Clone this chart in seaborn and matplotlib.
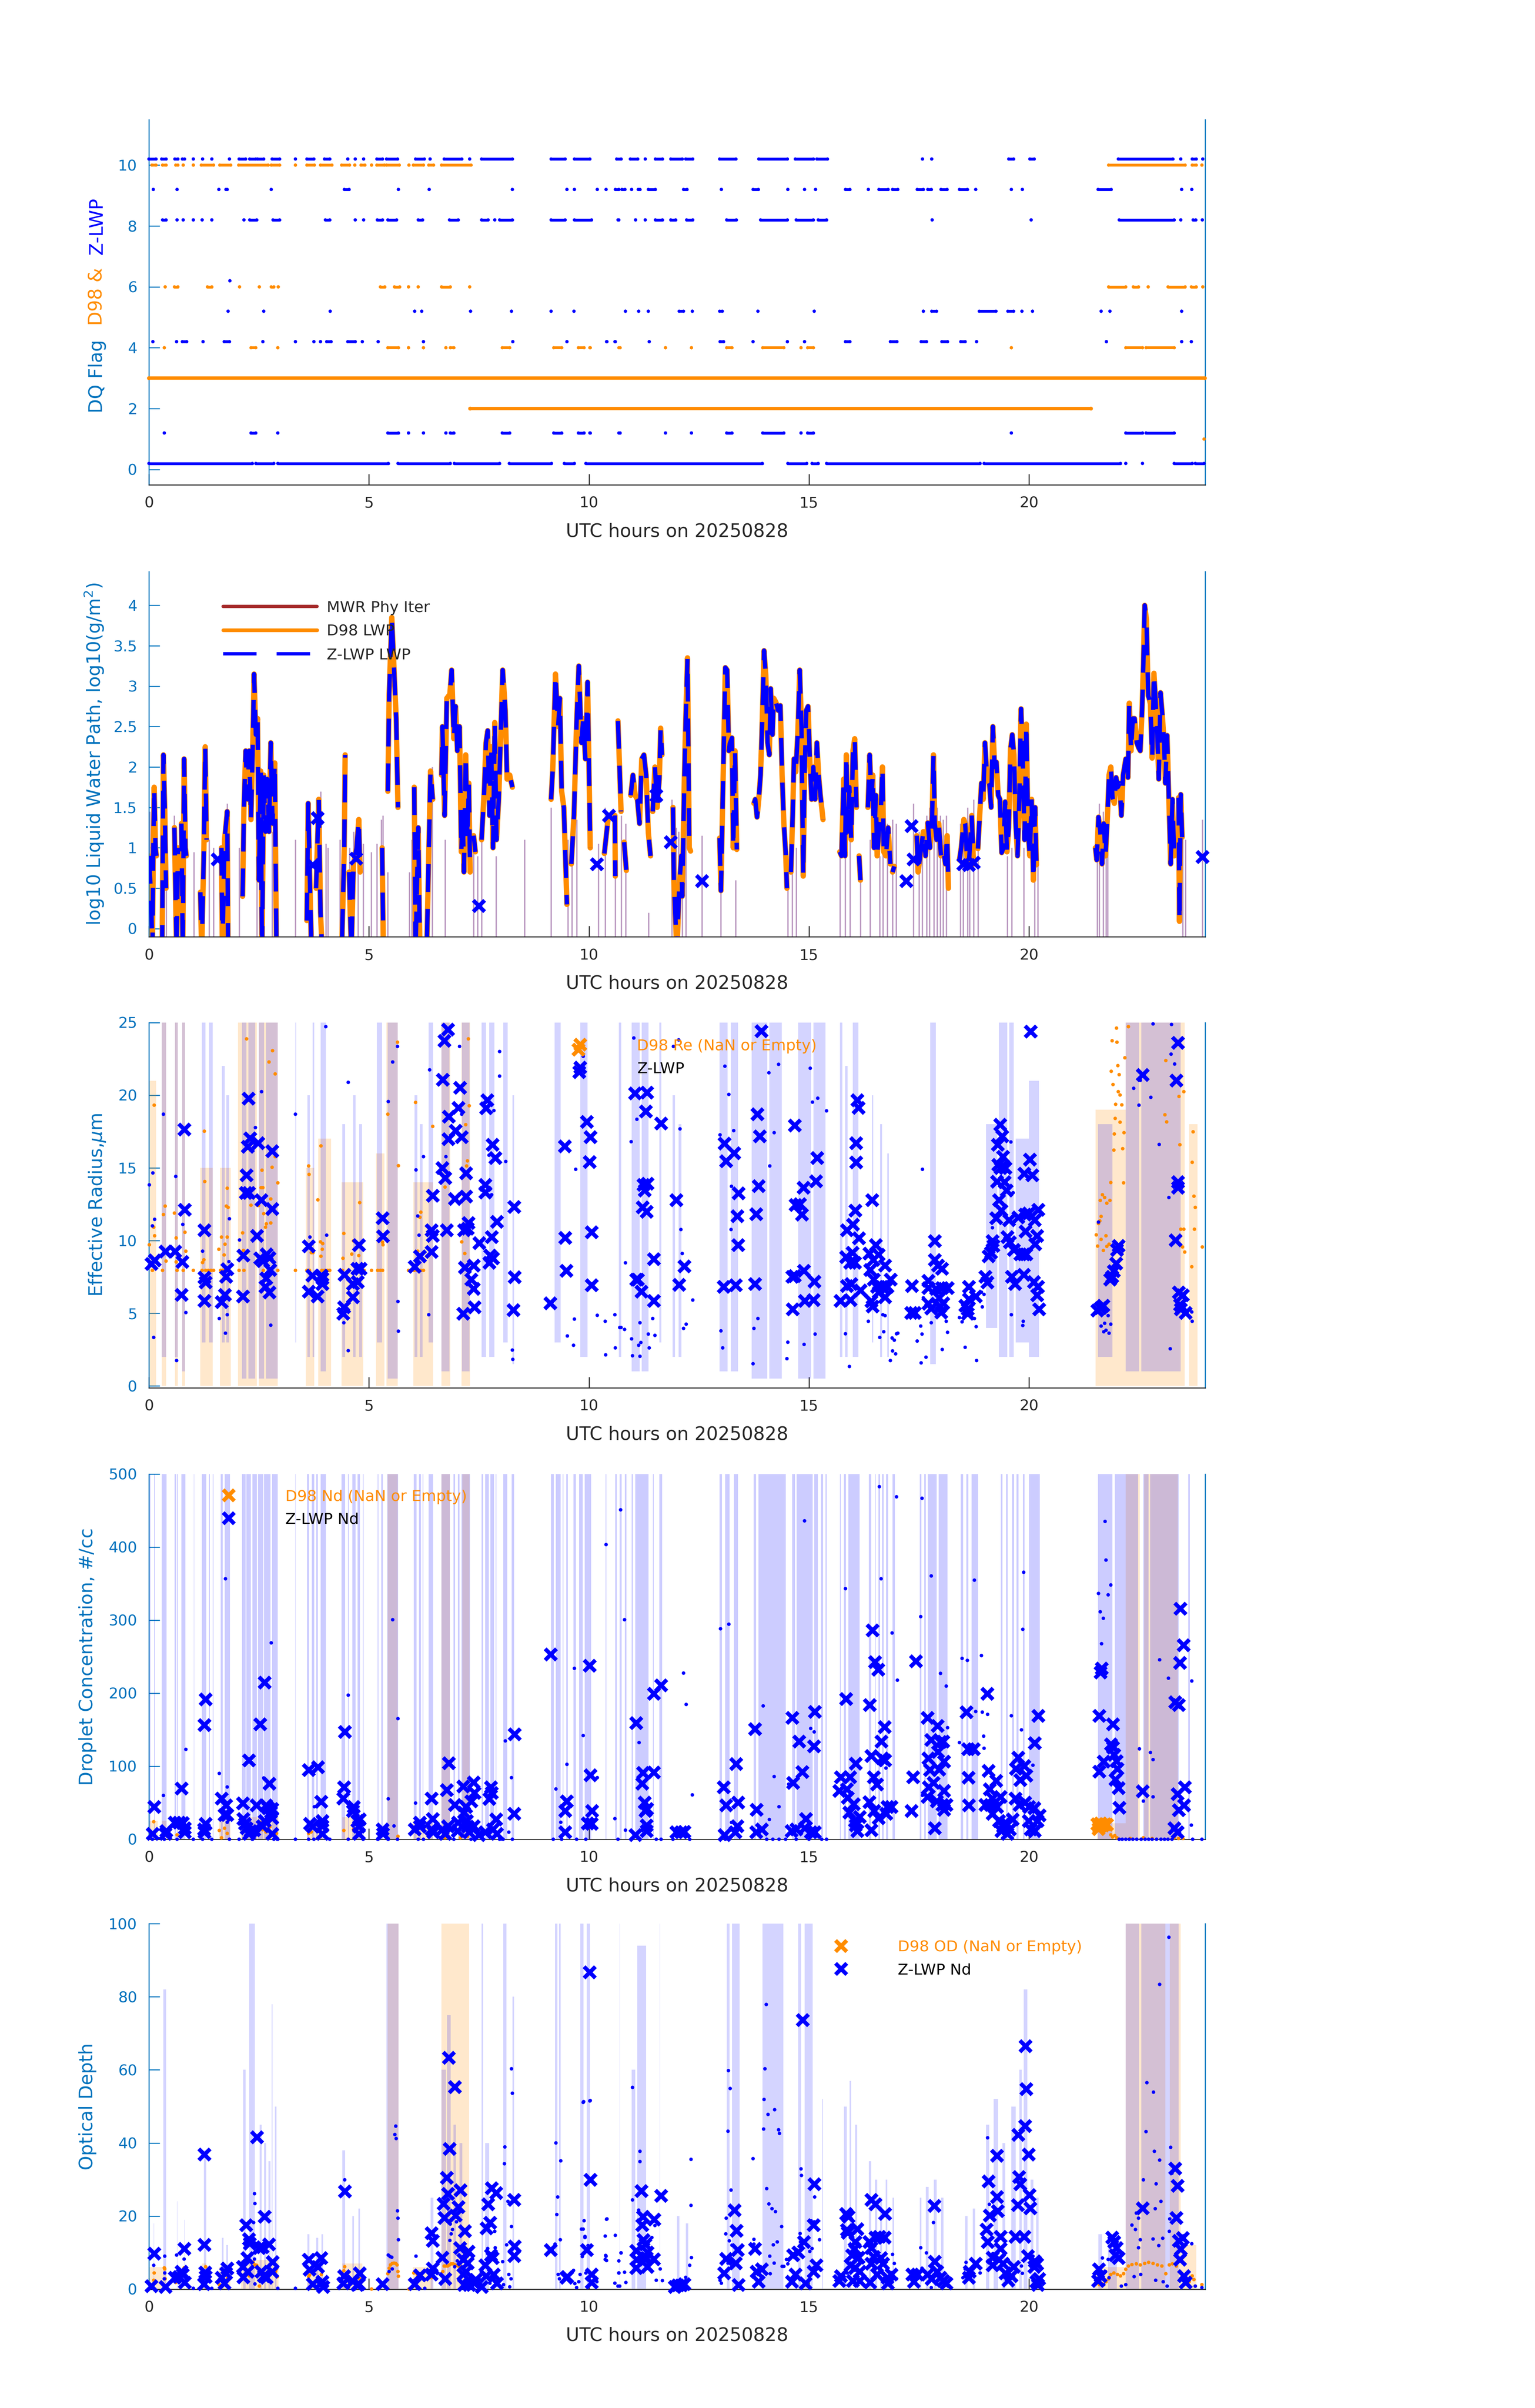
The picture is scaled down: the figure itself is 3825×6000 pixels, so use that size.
import matplotlib
matplotlib.use("Agg")
import matplotlib.pyplot as plt
from matplotlib.lines import Line2D
from matplotlib.ticker import FormatStrFormatter
import numpy as np
import pandas as pd
import seaborn as sns

sns.set_style("white")
plt.rcParams["font.family"] = ["DejaVu Sans"]
plt.rcParams["mathtext.fontset"] = "dejavusans"

AX_BLUE = "#0072BD"
ORANGE = "#FF8C00"
BLUE = "#0000FF"
DARK = "#262626"
MAUVE = "#BA98C0"
BROWN = "#A52A2A"

# ---------------- panel 1: DQ flags, runs of (start hour, end hour) ----------------
zlwp_q10 = [(0.0, 0.16), (0.29, 0.39), (0.59, 0.66), (0.76, 0.81), (1.01, 1.01), (1.22, 1.22), (1.43, 1.43),
            (1.83, 1.83), (2.05, 2.2), (2.29, 2.43), (2.47, 2.61), (2.8, 2.97), (3.33, 3.33), (3.59, 3.75),
            (3.99, 4.11), (4.52, 4.52), (4.69, 4.69), (4.88, 4.88), (5.18, 5.31), (5.4, 5.65), (6.06, 6.26),
            (6.39, 6.39), (6.71, 7.11), (7.29, 7.29), (7.56, 8.26), (9.14, 9.46), (9.67, 10.02), (10.63, 10.73),
            (10.94, 11.11), (11.28, 11.28), (11.51, 11.67), (11.86, 12.12), (12.2, 12.36), (12.97, 13.34),
            (13.86, 14.51), (14.69, 15.1), (15.18, 15.42), (17.58, 17.58), (17.79, 17.79), (19.54, 19.65),
            (20.02, 20.12), (22.03, 23.27), (23.45, 23.45), (23.71, 23.8), (23.95, 23.95)]
d98_q10 = [(0.07, 0.16), (0.31, 0.39), (0.61, 0.66), (0.78, 0.78), (1.01, 1.01), (1.19, 1.47), (1.61, 1.86),
           (2.04, 2.71), (2.78, 2.97), (3.33, 3.33), (3.59, 3.76), (3.9, 4.16), (4.38, 4.56), (4.68, 4.68),
           (4.82, 4.91), (5.06, 5.06), (5.18, 5.35), (5.4, 5.69), (5.91, 5.91), (6.01, 6.24), (6.36, 6.47),
           (6.65, 7.32), (21.81, 23.55), (23.71, 23.8), (23.93, 23.93)]
zlwp_q9 = [(0.1, 0.1), (0.64, 0.64), (1.59, 1.59), (1.75, 1.78), (2.78, 2.78), (4.44, 4.55), (5.67, 5.67),
           (6.37, 6.37), (8.26, 8.26), (9.5, 9.5), (9.67, 9.67), (10.19, 10.19), (10.39, 10.39), (10.6, 10.68),
           (10.75, 10.82), (10.97, 10.97), (11.12, 11.16), (11.35, 11.51), (12.15, 12.23), (13.01, 13.01),
           (13.73, 13.85), (14.52, 14.52), (14.9, 14.9), (15.15, 15.15), (15.83, 15.93), (16.35, 16.35),
           (16.59, 16.8), (16.9, 17.02), (17.46, 17.6), (17.7, 17.78), (18.0, 18.14), (18.42, 18.6),
           (18.79, 18.79), (19.6, 19.6), (19.85, 19.85), (21.57, 21.87), (23.47, 23.47), (23.7, 23.7)]
zlwp_q8 = [(0.31, 0.39), (0.64, 0.64), (0.78, 0.78), (1.01, 1.01), (1.21, 1.21), (1.43, 1.43), (2.16, 2.16),
           (2.29, 2.45), (2.82, 2.97), (4.01, 4.11), (4.69, 4.69), (4.88, 4.88), (5.19, 5.31), (5.43, 5.63),
           (6.12, 6.22), (6.83, 7.03), (7.56, 7.71), (7.86, 7.86), (7.97, 8.26), (9.14, 9.46), (9.67, 10.06),
           (10.66, 10.68), (11.06, 11.06), (11.28, 11.28), (11.51, 11.67), (11.86, 11.97), (12.22, 12.36),
           (13.13, 13.35), (13.9, 14.51), (14.71, 15.1), (15.21, 15.4), (17.8, 17.8), (20.05, 20.05),
           (22.05, 23.3), (23.45, 23.45), (23.73, 23.79), (23.94, 23.94)]
zlwp_q6 = [(1.84, 1.84)]
d98_q6 = [(0.37, 0.37), (0.58, 0.66), (1.33, 1.43), (2.06, 2.06), (2.51, 2.51), (2.78, 2.84), (2.94, 2.94),
          (5.26, 5.36), (5.58, 5.7), (5.9, 5.9), (6.12, 6.12), (6.65, 6.85), (7.29, 7.29), (21.81, 22.2),
          (22.37, 22.49), (22.71, 22.71), (23.16, 23.55), (23.69, 23.8), (23.95, 23.95)]
zlwp_q5 = [(1.8, 1.8), (2.61, 2.61), (4.12, 4.12), (6.04, 6.04), (6.2, 6.2), (7.31, 7.31), (8.24, 8.24),
           (9.14, 9.14), (9.66, 9.66), (10.83, 10.83), (11.13, 11.13), (11.35, 11.35), (12.05, 12.15),
           (12.35, 12.35), (12.97, 13.03), (13.84, 13.84), (15.12, 15.12), (17.6, 17.6), (17.79, 17.9),
           (18.87, 19.25), (19.52, 19.65), (19.84, 19.84), (20.08, 20.08), (21.64, 21.64), (21.84, 21.84),
           (23.47, 23.47)]
zlwp_q4 = [(0.09, 0.09), (0.63, 0.63), (0.76, 0.86), (1.23, 1.23), (1.71, 1.83), (2.59, 2.59), (3.33, 3.33),
           (3.75, 3.75), (3.9, 3.9), (4.04, 4.14), (4.52, 4.69), (4.85, 4.85), (5.21, 5.21), (6.24, 6.24),
           (8.27, 8.27), (9.5, 9.5), (10.4, 10.41), (10.59, 10.6), (11.37, 11.37), (12.98, 13.06), (13.73, 13.73),
           (14.51, 14.51), (14.9, 14.9), (15.83, 15.93), (16.85, 17.0), (17.55, 17.67), (18.02, 18.15),
           (18.45, 18.55), (18.81, 18.81), (21.76, 21.76), (23.47, 23.47), (23.69, 23.69)]
d98_q4 = [(0.35, 0.35), (2.32, 2.43), (2.93, 2.93), (5.43, 5.67), (5.9, 5.9), (6.24, 6.24), (6.75, 6.75),
          (6.85, 6.93), (8.03, 8.2), (9.2, 9.38), (9.76, 9.89), (10.02, 10.03), (10.68, 10.71), (11.74, 11.74),
          (12.33, 12.33), (13.13, 13.25), (13.95, 14.43), (14.82, 14.82), (14.97, 15.1), (19.6, 19.6),
          (22.2, 22.58), (22.66, 23.3)]
d98_q3 = [(0.0, 24.0)]
d98_q2 = [(7.3, 21.41)]
zlwp_q1 = [(0.35, 0.35), (2.32, 2.43), (2.93, 2.93), (5.43, 5.67), (5.9, 5.9), (6.24, 6.24), (6.75, 6.75),
           (6.85, 6.93), (8.03, 8.2), (9.2, 9.38), (9.76, 9.89), (10.02, 10.03), (10.68, 10.71), (11.74, 11.74),
           (12.33, 12.33), (13.13, 13.25), (13.95, 14.43), (14.82, 14.82), (14.97, 15.1), (19.6, 19.6),
           (22.2, 22.58), (22.66, 23.3)]
d98_q1 = [(23.98, 23.98)]
zlwp_q0 = [(0.0, 2.35), (2.43, 2.84), (2.93, 5.44), (5.66, 6.85), (6.94, 7.97), (8.19, 9.15), (9.44, 9.67),
           (9.93, 13.94), (14.52, 14.95), (15.07, 15.21), (15.4, 18.89), (18.98, 22.08), (22.2, 22.2),
           (22.58, 22.58), (23.3, 23.71), (23.78, 23.98)]

# ---------------- panel 2: log10 LWP (hour, value); None = gap ----------------
zlwp_lwp = [
    (0.00, 0.9), (0.05, 0.4), (0.08, -0.3), (0.10, 1.0), (0.12, 1.75), (0.15, 1.0), (0.17, 0.9), None,
    (0.30, -0.3), (0.33, 2.15), (0.36, 1.5), (0.39, 0.5), None,
    (0.58, 1.25), (0.61, 0.3), (0.63, -0.3), (0.66, 1.0), None,
    (0.74, 1.3), (0.77, -0.3), (0.80, 2.1), (0.83, 1.0), (0.85, 0.9), None,
    (1.17, 0.45), (1.20, -0.3), (1.25, 1.0), (1.28, 2.25), (1.31, 1.1), None,
    (1.65, 1.0), (1.67, -0.3), (1.72, 1.1), (1.78, 1.45), (1.80, -0.3), None,
    (2.13, 0.4), (2.16, 1.5), (2.20, 2.2), (2.24, 1.6), (2.28, 2.2), (2.32, 1.35), (2.36, 2.25), (2.39, 3.15),
    (2.43, 2.4), (2.47, 2.6), (2.50, 0.6), (2.54, 1.95), (2.57, -0.3), (2.61, 1.9), (2.65, 1.2), (2.69, 1.85),
    (2.73, 1.2), (2.77, 2.3), (2.81, 1.3), (2.86, 2.05), (2.90, -0.3), None,
    (3.59, 0.1), (3.62, 1.55), (3.67, 0.3), (3.70, -0.3), None,
    (3.80, 0.5), (3.86, 1.6), (3.90, 0.2), (3.94, -0.3), None,
    (4.39, -0.1), (4.44, 1.0), (4.46, 2.15), None,
    (4.55, 0.7), (4.60, -0.3), (4.65, 0.8), (4.72, 1.0), (4.77, 1.35), (4.80, 0.7), None,
    (5.30, 1.0), (5.33, -0.3), None,
    (5.43, 1.7), (5.46, 2.9), (5.52, 3.85), (5.58, 3.1), (5.62, 2.6), (5.66, 1.5), None,
    (6.03, 1.75), (6.06, -0.3), (6.12, 1.25), (6.16, -0.3), None,
    (6.32, -0.1), (6.40, 1.95), (6.45, 1.6), None,
    (6.65, 1.9), (6.67, 2.5), (6.72, 1.4), (6.77, 2.85), (6.84, 2.9), (6.88, 3.2), (6.93, 2.35), (6.97, 2.75),
    (7.01, 2.2), (7.06, 2.5), (7.10, 0.95), (7.13, 1.45), (7.16, 0.7), (7.20, 2.15), (7.24, 1.1), (7.27, 1.8),
    (7.30, 0.7), None,
    (7.38, 1.15), (7.42, 0.95), None,
    (7.56, 1.1), (7.62, 1.7), (7.66, 2.3), (7.70, 2.45), (7.74, 1.4), (7.78, 2.25), (7.82, 1.0), (7.86, 2.55),
    (7.90, 1.1), (7.95, 1.6), (7.99, 2.3), (8.04, 3.2), (8.10, 2.7), (8.14, 1.85), (8.20, 1.9), (8.26, 1.75), None,
    (9.14, 1.6), (9.18, 2.0), (9.24, 3.15), (9.30, 2.5), (9.34, 2.85), (9.38, 1.7), (9.43, 1.5), (9.50, 0.3), None,
    (9.60, 0.8), (9.66, 1.4), (9.72, 2.55), (9.77, 3.25), (9.83, 2.3), (9.87, 2.6), (9.92, 2.1), (9.97, 3.05),
    (10.03, 1.0), None,
    (10.35, 0.93), (10.44, 1.38), None,
    (10.59, 1.4), (10.60, 0.65), None,
    (10.66, 2.57), (10.73, 1.45), None,
    (10.80, 1.07), (10.85, 0.72), None,
    (10.95, 1.65), (11.0, 1.9), (11.05, 1.65), (11.1, 1.6), (11.15, 1.3), (11.2, 2.1), (11.25, 2.15), (11.3, 1.9),
    (11.35, 1.19), (11.4, 0.9), None,
    (11.45, 1.45), (11.5, 2.0), (11.55, 1.5), (11.6, 1.85), (11.63, 2.48), (11.66, 2.15), None,
    (11.91, 1.5), (11.93, 0.6), (12.0, -0.3), (12.05, 0.5), (12.1, 0.9), (12.12, 0.4), (12.17, 1.9), (12.2, 2.6),
    (12.24, 3.35), (12.28, 1.0), (12.31, 0.96), None,
    (12.97, 1.12), (13.0, 0.47), (13.04, 1.6), (13.07, 2.4), (13.1, 3.23), (13.14, 3.2), (13.18, 2.2),
    (13.2, 2.29), (13.25, 2.36), (13.28, 1.0), (13.32, 2.2), (13.36, 0.98), None,
    (13.75, 1.55), (13.78, 1.6), (13.82, 1.38), (13.86, 1.6), (13.9, 1.9), (13.94, 2.6), (13.98, 3.44),
    (14.02, 3.13), (14.06, 2.3), (14.1, 2.15), (14.13, 2.97), (14.17, 2.4), (14.2, 2.85), (14.25, 2.8),
    (14.3, 2.7), (14.35, 2.76), (14.39, 1.9), (14.43, 1.3), (14.47, 0.95), (14.5, 0.5), None,
    (14.59, 0.7), (14.63, 1.4), (14.66, 2.1), (14.7, 1.94), (14.75, 2.46), (14.79, 3.2), (14.83, 2.5),
    (14.87, 0.65), (14.9, 1.9), (14.94, 2.7), (14.98, 2.75), (15.02, 2.1), (15.06, 1.6), (15.1, 2.0),
    (15.14, 1.6), (15.18, 2.3), (15.22, 1.9), (15.26, 1.65), (15.32, 1.35), None,
    (15.7, 0.95), (15.74, 0.9), (15.79, 1.85), (15.82, 0.9), (15.85, 2.15), (15.88, 1.2), (15.92, 1.75),
    (15.96, 1.1), (16.0, 2.2), (16.04, 2.35), (16.08, 1.5), None,
    (16.14, 0.9), (16.17, 0.6), None,
    (16.34, 1.5), (16.38, 2.15), (16.42, 1.6), (16.45, 1.9), (16.48, 1.0), (16.52, 1.65), (16.55, 0.9),
    (16.59, 1.2), (16.63, 1.4), (16.67, 2.0), (16.7, 0.95), (16.75, 0.9), (16.8, 1.25), (16.85, 0.8), None,
    (16.9, 0.7), (16.94, 0.77), None,
    (17.45, 1.15), (17.48, 0.7), (17.55, 1.0), (17.6, 1.2), (17.65, 0.9), (17.7, 1.31), (17.75, 1.0),
    (17.8, 1.4), (17.83, 2.15), (17.86, 1.3), (17.9, 1.1), (17.95, 1.3), (18.0, 0.9), (18.05, 1.0), (18.1, 0.8),
    (18.14, 1.15), (18.17, 0.5), None,
    (18.42, 0.85), (18.46, 1.0), (18.52, 1.35), (18.55, 1.3), (18.6, 0.8), (18.64, 0.85), (18.7, 1.4),
    (18.74, 0.8), None,
    (18.84, 0.99), (18.88, 1.4), (18.92, 1.8), (18.96, 1.6), (19.0, 2.3), (19.05, 1.85), (19.1, 1.8),
    (19.14, 1.5), (19.18, 2.5), (19.22, 2.0), (19.26, 2.06), (19.3, 1.65), (19.34, 1.6), (19.38, 0.94),
    (19.42, 1.0), (19.46, 1.57), (19.5, 0.95), (19.54, 1.25), (19.58, 2.22), (19.62, 2.4), (19.66, 2.15),
    (19.7, 1.3), (19.74, 0.9), (19.78, 1.6), (19.82, 2.72), (19.86, 2.1), (19.9, 1.1), (19.94, 2.53),
    (19.98, 1.2), (20.02, 0.9), (20.06, 1.6), (20.1, 0.6), (20.14, 1.5), (20.17, 0.79), None,
    (21.51, 1.0), (21.54, 0.85), (21.58, 1.38), (21.62, 1.2), (21.66, 0.8), (21.7, 1.3), (21.74, 0.9),
    (21.78, 1.35), (21.82, 1.9), (21.86, 2.0), (21.9, 1.62), (21.94, 1.55), (21.98, 1.87), (22.02, 1.75),
    (22.06, 1.8), (22.1, 1.4), (22.14, 1.9), (22.2, 2.1), (22.25, 1.87), (22.28, 2.79), (22.32, 2.2),
    (22.36, 2.6), (22.4, 2.6), (22.45, 2.3), (22.49, 2.24), (22.53, 2.2), (22.57, 2.7), (22.6, 3.27),
    (22.63, 4.0), (22.67, 3.82), (22.71, 2.88), (22.73, 2.85), (22.76, 2.78), (22.8, 2.11), (22.84, 3.16),
    (22.88, 2.8), (22.92, 2.35), (22.95, 1.85), (22.99, 2.92), (23.03, 2.65), (23.07, 2.3), (23.1, 1.8),
    (23.14, 2.39), (23.18, 1.6), (23.22, 0.8), (23.26, 1.6), (23.3, 0.9), None,
    (23.4, 1.62), (23.42, 0.09), (23.45, 1.66), (23.48, 1.13), None,
]
d98_lwp = list(zlwp_lwp)
zlwp_lwp_single = [(1.56, 0.86), (3.72, 0.79), (3.83, 1.37), (4.71, 0.87), (7.5, 0.28), (10.18, 0.8),
                   (10.45, 1.4), (11.53, 1.65), (11.86, 1.07), (12.57, 0.59), (17.21, 0.59), (17.33, 1.27),
                   (17.37, 0.86), (18.5, 0.8), (18.63, 0.79), (18.74, 0.82), (23.94, 0.89)]
mwr_spike_hours = [0.02, 0.39, 0.57, 1.02, 1.16, 1.37, 1.47, 1.63, 1.68, 1.72, 1.78, 2.05, 2.45, 2.8, 3.33,
                   3.63, 3.9, 4.02, 4.07, 4.34, 4.56, 4.65, 4.75, 4.87, 5.05, 5.18, 5.28, 5.32, 5.43, 5.92,
                   5.97, 6.34, 6.44, 6.73, 7.38, 7.47, 7.56, 7.89, 8.54, 9.14, 9.52, 9.61, 9.72, 10.21, 10.37,
                   10.6, 10.73, 10.83, 11.35, 11.88, 11.98, 12.04, 12.12, 12.2, 12.57, 13.0, 13.33, 14.52,
                   14.62, 14.71, 15.7, 15.82, 15.93, 16.17, 16.39, 16.61, 16.68, 16.78, 16.9, 16.98, 17.37,
                   17.5, 17.57, 17.67, 17.74, 17.84, 17.91, 17.98, 18.05, 18.12, 18.44, 18.5, 18.6, 18.65,
                   18.74, 18.84, 19.51, 19.61, 19.88, 20.13, 20.2, 21.55, 21.6, 21.69, 21.75, 21.79, 23.49,
                   23.56, 23.94]
mwr_spike_tops = [1.45, 0.9, 1.4, 0.95, 0.3, 1.1, 1.0, 1.0, 1.15, 1.35, 1.55, 1.0, 1.6, 1.2, 1.1,
                  1.1, 1.7, 1.05, 1.0, 1.1, 1.0, 1.2, 1.25, 1.05, 0.95, 1.05, 1.35, 1.4, 0.7, 0.7,
                  1.1, 1.5, 2.0, 1.1, 1.0, 0.9, 1.2, 0.9, 1.1, 1.5, 1.1, 1.2, 1.35, 1.05, 1.5,
                  1.3, 1.4, 1.3, 0.2, 1.6, 1.25, 1.2, 1.3, 1.3, 1.15, 1.4, 0.6, 0.9,
                  1.3, 1.0, 1.0, 0.9, 1.1, 0.9, 1.1, 0.9, 1.3, 1.3, 1.35, 1.3, 1.55,
                  1.2, 1.15, 1.4, 1.5, 1.4, 1.5, 1.4, 1.35, 1.4, 1.3, 1.35, 1.5, 1.35,
                  1.6, 1.5, 0.9, 1.0, 1.0, 1.2, 1.1, 1.4, 1.55, 1.45, 1.3, 1.4, 1.1,
                  1.1, 1.35]

# ---------------- panel 3: effective radius ----------------
re_zlwp_x = [
    (0.13, 8.64), (0.05, 8.39), (0.37, 9.27), (0.59, 9.27), (0.74, 6.29), (0.76, 8.55), (0.8, 17.66), (0.81, 12.12),
    (1.26, 10.72), (1.26, 7.46), (1.29, 7.13), (1.26, 5.87), (1.65, 5.77), (1.72, 6.29), (1.75, 7.52), (1.78, 8.04),
    (2.14, 8.97), (2.13, 6.16), (2.22, 14.51), (2.24, 16.45), (2.26, 19.76), (2.3, 17.04), (2.2, 13.29), (2.27, 13.29),
    (2.48, 16.71), (2.45, 10.33), (2.55, 12.8), (2.53, 8.78), (2.59, 8.59), (2.66, 7.42), (2.64, 6.84), (2.67, 9.07),
    (2.74, 8.82), (2.74, 6.45), (2.75, 8.0), (2.8, 16.16), (2.8, 12.18), (3.63, 9.62), (3.71, 7.61), (3.83, 6.16),
    (3.63, 6.49), (3.92, 7.61), (3.94, 7.03), (3.94, 7.42), (4.44, 7.65), (4.43, 5.42), (4.41, 4.99), (4.63, 7.03),
    (4.63, 6.1), (4.74, 7.17), (4.77, 9.69), (4.73, 8.06), (4.81, 8.06), (5.31, 11.56), (5.32, 10.3), (6.04, 8.2),
    (6.16, 8.92), (6.42, 9.23), (6.45, 13.09), (6.42, 10.72), (6.45, 10.33), (6.68, 21.06), (6.71, 23.74),
    (6.79, 24.51), (6.81, 18.53), (6.8, 16.98), (6.67, 15.0), (6.73, 14.32), (6.77, 10.72), (6.95, 12.86),
    (6.97, 17.56), (7.03, 19.13), (7.07, 20.53), (7.1, 17.13), (7.2, 14.65), (7.2, 13.05), (7.26, 11.21),
    (7.16, 10.72), (7.24, 10.82), (7.18, 8.16), (7.14, 4.99), (7.32, 7.32), (7.38, 6.68), (7.38, 8.29),
    (7.4, 5.42), (7.51, 9.85), (7.66, 19.11), (7.69, 19.66), (7.64, 13.83), (7.64, 13.31), (7.81, 16.61),
    (7.87, 15.68), (7.79, 10.24), (7.91, 11.31), (7.75, 8.97), (7.82, 8.78), (7.73, 8.49), (8.3, 12.32),
    (8.31, 7.48), (8.28, 5.23), (9.12, 5.71), (9.45, 16.49), (9.46, 10.2), (9.48, 7.94), (9.78, 21.6),
    (9.95, 18.16), (10.03, 17.13), (10.01, 15.42), (10.06, 10.57), (10.06, 6.93),
    (11.04, 20.14), (11.32, 20.18), (11.29, 18.88), (11.64, 18.05), (11.24, 13.83), (11.26, 13.44), (11.33, 13.93),
    (11.22, 12.28), (11.31, 11.99), (11.07, 7.32), (11.11, 7.32), (11.19, 6.49), (11.47, 5.87), (11.47, 8.74),
    (11.98, 12.8), (12.05, 6.97), (12.17, 8.24), (13.08, 16.69), (13.11, 15.48), (13.3, 16.01), (13.4, 13.25),
    (13.37, 11.69), (13.39, 9.71), (13.06, 6.84), (13.33, 6.93), (13.83, 18.69), (13.88, 17.19), (13.85, 13.77),
    (13.8, 11.83), (13.77, 7.03), (13.92, 24.42), (14.67, 17.91), (14.87, 13.64), (14.69, 12.47), (14.79, 12.51),
    (14.84, 11.79), (15.18, 15.68), (15.16, 14.08), (14.62, 7.52), (14.67, 7.58), (14.88, 7.94), (15.12, 7.19),
    (14.63, 5.28), (14.9, 5.87), (15.1, 5.92), (15.71, 5.87), (15.94, 5.92), (15.86, 6.88), (15.96, 7.03),
    (15.84, 8.88), (15.99, 9.17), (15.93, 8.49), (16.04, 8.49), (15.86, 10.72), (16.0, 11.11), (16.13, 10.18),
    (16.05, 12.08), (16.07, 16.71), (16.07, 15.38), (16.1, 19.66), (16.12, 19.13), (16.17, 6.59), (16.43, 12.8),
    (16.37, 9.13), (16.52, 9.71), (16.46, 8.68), (16.58, 9.03), (16.39, 8.0), (16.73, 8.29), (16.47, 7.32),
    (16.54, 6.84), (16.65, 6.84), (16.78, 6.84), (16.85, 7.32), (16.58, 6.45), (16.73, 6.1), (16.42, 5.83),
    (16.44, 5.48), (17.34, 6.88), (17.32, 5.03), (17.4, 5.03), (17.86, 9.98), (17.86, 8.68), (17.93, 8.29),
    (18.02, 8.06), (17.71, 7.23), (17.71, 6.74), (17.88, 6.68), (18.02, 6.74), (18.15, 6.74), (17.96, 6.06),
    (17.71, 5.67), (17.77, 5.34), (17.98, 5.48), (18.05, 5.71), (18.0, 5.05), (18.63, 6.84), (18.63, 5.96),
    (18.55, 5.52), (18.6, 5.28), (18.6, 4.99), (18.79, 6.16), (19.01, 7.52), (19.05, 7.13), (19.08, 8.92),
    (19.13, 9.17), (19.17, 9.98), (19.19, 9.65), (19.25, 11.56), (19.27, 14.06), (19.32, 12.8), (19.37, 12.08),
    (19.3, 15.23), (19.35, 15.0), (19.29, 16.61), (19.34, 17.97), (19.39, 17.19), (19.41, 15.77), (19.46, 15.0),
    (19.44, 14.03), (19.49, 13.44), (19.54, 11.4), (19.51, 10.24), (19.56, 9.89), (19.65, 9.36), (19.75, 11.6),
    (19.8, 9.07), (19.88, 9.07), (19.94, 9.07), (19.92, 10.63), (19.91, 11.79), (19.99, 11.89), (19.89, 14.61),
    (20.02, 15.58), (20.07, 14.51), (20.13, 11.4), (20.21, 12.14), (20.18, 10.33), (20.14, 9.75), (20.11, 7.17),
    (20.2, 6.84), (20.18, 6.25), (20.23, 5.28), (20.04, 24.38), (19.61, 7.52), (19.68, 7.03), (19.88, 7.65),
    (21.55, 5.19), (21.62, 5.38), (21.69, 5.52), (21.84, 7.32), (21.89, 7.52), (21.92, 7.91), (21.98, 8.43),
    (22.03, 9.65), (22.0, 9.36), (22.58, 21.41), (23.38, 23.6), (23.35, 21.02), (23.38, 14.03), (23.38, 13.64),
    (23.33, 10.04), (23.4, 6.45), (23.49, 6.25), (23.43, 5.58), (23.45, 5.28), (23.56, 5.03),
]
re_d98_x = [(9.76, 23.15)]
re_zlwp_dots = [
    (0.01, 13.83), (0.09, 14.65), (0.08, 11.01), (0.13, 11.46), (0.11, 3.34), (0.33, 18.69), (0.61, 14.41),
    (0.63, 1.75), (0.77, 11.11), (0.84, 5.05), (1.22, 9.27), (1.74, 3.63), (1.78, 4.9), (1.6, 4.64), (1.82, 8.55),
    (1.83, 11.5), (2.06, 10.04), (2.42, 17.77), (2.56, 20.24), (2.77, 4.18), (3.33, 18.69), (4.02, 24.71),
    (4.04, 10.37), (3.66, 10.24), (4.43, 4.35), (4.53, 20.88), (4.53, 2.43), (5.44, 19.56), (5.54, 22.28),
    (5.65, 23.35), (5.66, 5.81), (5.67, 3.77), (6.07, 14.86), (6.11, 11.69), (6.14, 10.37), (6.24, 15.77),
    (6.38, 21.74), (6.36, 4.9), (6.75, 15.77), (7.06, 23.35), (7.11, 18.69), (7.73, 15.87), (7.79, 13.15),
    (7.84, 18.94), (7.97, 21.31), (7.97, 23.0), (8.11, 15.44), (8.26, 2.47), (8.27, 1.83), (9.51, 3.44),
    (9.65, 2.8), (9.67, 4.6), (9.7, 14.9), (9.87, 22.67), (10.19, 4.86), (10.37, 4.45), (10.38, 2.14),
    (10.59, 4.9), (10.6, 2.62), (10.7, 4.02), (11.02, 23.93), (11.09, 18.34), (10.96, 16.8), (10.83, 8.47),
    (10.73, 4.02), (10.81, 3.89), (10.97, 3.24), (10.99, 2.08), (11.13, 2.8), (11.16, 2.04), (11.16, 4.35),
    (11.18, 2.99), (11.35, 3.57), (11.37, 2.62), (11.45, 4.64), (11.5, 3.48), (11.92, 23.35), (12.04, 23.8),
    (12.07, 17.68), (12.09, 10.76), (12.12, 9.11), (12.15, 3.96), (12.21, 4.25), (12.36, 5.91), (13.09, 21.99),
    (13.18, 20.05), (13.29, 17.56), (12.98, 17.27), (13.24, 13.73), (13.23, 10.76), (13.0, 3.79), (13.04, 2.62),
    (14.09, 21.54), (14.31, 22.12), (14.21, 17.42), (14.11, 15.13), (13.84, 4.64), (13.75, 3.96), (13.73, 1.53),
    (14.52, 3.01), (14.5, 1.88), (14.89, 2.86), (15.03, 21.85), (15.08, 19.52), (15.2, 19.79), (15.4, 18.92),
    (15.14, 3.57), (15.83, 3.59), (15.92, 1.34), (16.35, 4.45), (16.61, 3.34), (16.68, 4.9), (16.73, 4.84),
    (16.7, 3.73), (16.89, 3.3), (16.99, 3.59), (16.94, 3.15), (17.02, 3.63), (16.9, 2.41), (16.97, 2.21),
    (16.85, 1.75), (17.58, 14.9), (17.6, 6.06), (17.81, 5.92), (17.54, 4.12), (17.57, 3.57), (17.46, 3.09),
    (17.66, 1.98), (17.55, 1.59), (17.78, 4.35), (18.03, 2.51), (18.12, 4.45), (18.15, 3.69), (18.42, 4.7),
    (18.48, 4.41), (18.55, 2.66), (18.76, 4.64), (18.81, 1.75), (18.8, 4.08), (18.92, 6.45), (18.98, 6.3),
    (18.94, 5.44), (19.17, 10.88), (19.59, 16.78), (19.64, 13.29), (19.6, 4.9), (19.87, 4.45), (19.86, 4.16),
    (21.58, 11.27), (21.64, 4.12), (21.72, 4.31), (21.75, 3.83), (21.7, 3.73), (21.82, 3.63), (21.86, 4.25),
    (21.8, 4.84), (22.38, 20.47), (22.5, 19.31), (22.53, 21.02), (22.77, 19.85), (22.82, 24.9), (22.96, 16.61),
    (23.18, 12.96), (23.23, 22.82), (23.24, 24.86), (23.31, 22.14), (23.21, 2.56), (23.7, 5.09), (23.71, 4.45),
]
re_d98_dots = [
    (0.08, 7.95), (0.31, 7.95), (0.64, 7.95), (0.78, 7.95), (1.01, 7.95), (1.21, 7.95), (1.29, 7.95), (1.35, 7.95),
    (1.41, 7.95), (1.47, 7.95), (1.63, 7.95), (1.68, 7.95), (1.74, 7.95), (1.82, 7.95), (2.05, 7.95), (2.16, 7.95),
    (2.6, 7.95), (2.93, 7.95), (3.33, 7.95), (3.59, 7.95), (3.65, 7.95), (3.93, 7.95), (3.99, 7.95), (4.06, 7.95),
    (4.11, 7.95), (4.4, 7.95), (4.53, 7.95), (4.89, 7.95), (5.06, 7.95), (5.2, 7.95), (5.26, 7.95), (5.31, 7.95),
    (5.9, 7.95), (6.03, 7.95), (6.1, 7.95), (6.18, 7.95), (6.24, 7.95),
    (0.12, 19.31), (0.11, 10.92), (0.13, 10.33), (0.01, 9.71), (0.33, 11.79), (0.37, 12.37), (0.39, 8.59),
    (0.58, 11.89), (0.62, 10.18), (0.62, 8.53), (0.74, 11.89), (0.82, 10.57), (0.84, 9.27), (1.26, 17.52),
    (1.27, 14.06), (1.22, 8.49), (1.25, 8.68), (1.59, 9.4), (1.65, 10.24), (1.73, 9.75), (1.71, 9.01),
    (1.78, 13.6), (1.76, 12.37), (1.8, 12.28), (1.78, 10.24), (2.13, 10.53), (2.15, 9.32), (2.22, 23.87),
    (2.31, 16.2), (2.32, 12.43), (2.49, 12.41), (2.55, 13.64), (2.59, 13.64), (2.61, 11.85), (2.57, 14.84),
    (2.73, 22.28), (2.81, 23.06), (2.87, 21.46), (2.87, 15.77), (2.93, 13.97), (2.67, 11.15), (2.65, 10.92),
    (2.77, 11.21), (2.8, 15.04), (2.77, 12.86), (3.63, 15.13), (3.64, 14.55), (3.84, 12.8), (3.91, 16.51),
    (3.9, 9.91), (3.95, 9.79), (3.94, 9.4), (3.73, 9.17), (3.91, 8.92), (3.69, 9.17), (4.43, 10.49),
    (4.41, 8.78), (4.65, 9.98), (4.61, 9.07), (4.77, 8.97), (4.79, 12.61), (5.67, 15.15), (5.65, 23.64),
    (5.43, 18.69), (5.31, 9.89), (5.32, 9.71), (6.06, 19.5), (6.11, 9.27), (6.18, 11.95), (6.16, 11.6),
    (6.45, 17.85), (6.72, 16.69), (6.73, 13.68), (7.17, 20.24), (7.2, 17.97), (7.24, 15.48), (7.22, 15.13),
    (7.28, 19.27), (7.26, 23.87), (7.11, 9.91), (7.18, 9.11),
    (21.53, 10.39), (21.56, 9.62), (21.58, 11.17), (21.61, 11.35), (21.64, 11.66), (21.62, 12.76), (21.67, 13.15),
    (21.72, 12.96), (21.77, 12.57), (21.84, 12.76), (21.64, 10.08), (21.75, 10.33), (21.69, 9.32), (21.77, 9.6),
    (21.82, 9.75), (21.86, 13.99), (21.87, 21.64), (21.89, 23.74), (21.91, 20.73), (21.94, 17.33), (21.93, 16.22),
    (21.96, 18.4), (21.99, 24.61), (22.0, 23.64), (22.02, 22.03), (22.05, 21.41), (22.03, 20.24), (22.07, 20.01),
    (22.11, 19.33), (21.97, 19.37), (22.07, 18.14), (22.16, 17.42), (22.13, 16.32), (22.15, 13.97), (22.18, 22.57),
    (22.26, 24.71), (23.11, 22.38), (23.09, 18.65), (23.13, 18.16), (23.41, 19.91), (23.43, 16.59), (23.52, 20.24),
    (23.45, 13.64), (23.45, 10.78), (23.52, 10.78), (23.49, 9.56), (23.54, 9.21), (23.73, 17.48), (23.71, 15.38),
    (23.75, 13.05), (23.78, 12.28), (23.76, 10.78), (23.7, 8.2), (23.94, 9.56),
]
re_band_blue = [(0.29, 0.39, 2, 25), (0.59, 0.66, 2, 25), (0.76, 0.82, 1, 25), (1.2, 1.29, 3, 25),
                (1.37, 1.45, 3, 25), (1.66, 1.72, 3, 22), (1.76, 1.82, 3, 20), (2.12, 2.22, 0.5, 25),
                (2.26, 2.42, 0.5, 25), (2.5, 2.62, 0.5, 25), (2.66, 2.93, 0.5, 25), (3.33, 3.35, 3, 25),
                (3.6, 3.66, 2, 20), (3.72, 3.76, 2, 25), (3.9, 4.02, 1, 25), (4.4, 4.46, 2, 18),
                (4.64, 4.7, 2, 20), (4.78, 4.84, 2, 18), (5.18, 5.3, 3, 25), (5.43, 5.65, 0.5, 25),
                (6.04, 6.1, 2, 20), (6.16, 6.22, 2, 18), (6.36, 6.46, 3, 25), (6.65, 6.83, 1, 25),
                (7.11, 7.29, 1, 25), (7.56, 7.66, 2, 25), (7.73, 7.85, 2, 25), (8.05, 8.15, 3, 25),
                (8.26, 8.3, 1.5, 20), (9.22, 9.36, 3, 25), (9.8, 9.97, 2, 25), (10.68, 10.73, 2, 25),
                (10.97, 11.15, 1, 25), (11.2, 11.35, 1, 25), (11.6, 11.65, 3, 25), (11.9, 11.96, 2, 20),
                (12.04, 12.1, 2, 18), (12.97, 13.15, 1, 25), (13.22, 13.39, 1, 25), (13.7, 14.05, 0.5, 25),
                (14.1, 14.38, 0.5, 25), (14.76, 15.05, 0.5, 25), (15.1, 15.38, 0.5, 25), (15.7, 15.76, 2, 25),
                (15.82, 15.88, 2, 22), (16.0, 16.12, 2, 25), (16.43, 16.46, 3, 20), (16.62, 16.66, 2, 18),
                (16.78, 16.82, 2, 16), (17.76, 17.88, 1.5, 25), (19.02, 19.28, 4, 18), (19.32, 19.51, 2, 25),
                (19.55, 19.65, 2, 25), (19.7, 20.0, 3, 17), (20.0, 20.23, 2, 21), (21.57, 21.9, 2, 18),
                (22.2, 22.5, 1, 25), (22.55, 23.45, 1, 25)]
re_band_orange = [(0.0, 0.16, 0, 21), (0.29, 0.39, 0, 25), (0.59, 0.66, 0, 25), (0.76, 0.82, 0, 25),
                  (1.17, 1.45, 0, 15), (1.61, 1.86, 0, 15), (2.02, 2.45, 0, 25), (2.5, 2.93, 0, 25),
                  (3.57, 3.76, 0, 15), (3.85, 4.14, 0, 17), (4.38, 4.87, 0, 14), (5.16, 5.35, 0, 16),
                  (5.4, 5.65, 0, 25), (6.01, 6.46, 0, 14), (6.65, 6.85, 0, 25), (7.1, 7.3, 0, 25),
                  (21.51, 22.2, 0, 19), (22.2, 23.54, 0, 25), (23.64, 23.83, 0, 18)]

# ---------------- panel 4: droplet concentration ----------------
nd_zlwp_x = [
    (0.12, 44.5), (0.08, 7.7), (0.37, 7.7), (0.39, 11.6), (0.58, 23.2), (0.68, 23.2), (0.77, 22.4), (0.74, 69.6),
    (0.81, 9.7), (0.81, 15.5), (1.26, 156.6), (1.29, 191.4), (1.25, 13.5), (1.29, 21.3), (1.26, 9.7), (1.65, 56.1),
    (1.71, 33.6), (1.78, 33.6), (1.75, 46.4), (2.13, 49.1), (2.14, 27.8), (2.18, 21.3), (2.22, 15.5), (2.27, 108.3),
    (2.27, 7.7), (2.31, 11.6), (2.39, 12.4), (2.44, 46.4), (2.53, 157.4), (2.63, 214.6), (2.58, 18.2), (2.63, 25.1),
    (2.66, 46.4), (2.71, 42.5), (2.74, 76.2), (2.77, 37.5), (2.8, 41.4), (2.8, 29.0), (2.8, 7.7), (3.63, 94.7),
    (3.84, 98.6), (3.66, 21.3), (3.72, 17.4), (3.91, 51.4), (3.94, 25.1), (3.94, 18.2), (3.94, 7.7), (4.45, 146.9),
    (4.43, 71.5), (4.41, 56.1), (4.65, 44.5), (4.63, 38.7), (4.73, 25.1), (4.79, 27.1), (4.77, 17.4), (4.77, 7.7),
    (5.31, 13.5), (5.32, 7.7), (6.04, 13.5), (6.16, 23.2), (6.16, 17.4), (6.42, 56.1), (6.45, 27.8), (6.42, 13.5),
    (6.46, 9.7), (6.81, 104.4), (6.77, 67.7), (6.67, 13.5), (6.73, 7.7), (6.79, 18.2), (6.95, 47.2), (7.02, 23.2),
    (7.01, 11.6), (7.14, 72.3), (7.16, 36.7), (7.2, 44.5), (7.22, 25.1), (7.24, 17.4), (7.32, 52.2), (7.38, 78.1),
    (7.4, 63.8), (7.38, 18.2), (7.28, 9.7), (7.5, 5.8), (7.64, 9.7), (7.77, 71.5), (7.73, 55.3), (7.79, 63.8),
    (7.82, 13.5), (7.89, 27.1), (7.91, 7.7), (8.31, 143.8), (8.3, 34.8), (9.13, 253.3), (9.49, 52.2), (9.46, 38.7),
    (9.46, 9.7), (10.01, 237.8), (10.03, 87.8), (10.07, 38.7), (9.97, 22.0), (10.06, 21.3),
    (11.07, 159.3), (11.23, 90.9), (11.21, 76.2), (11.47, 199.1), (11.64, 210.7), (11.47, 91.6), (11.26, 50.3),
    (11.28, 38.7), (11.32, 41.4), (11.31, 19.3), (11.31, 11.6), (11.05, 5.8), (11.98, 9.7), (12.09, 9.7),
    (12.17, 10.4), (13.06, 71.5), (13.11, 46.4), (13.34, 103.2), (13.39, 50.3), (13.08, 5.8), (13.37, 18.2),
    (13.32, 9.7), (13.77, 150.8), (13.81, 40.6), (13.93, 13.5), (13.8, 9.7), (14.62, 166.3), (14.77, 134.2),
    (14.85, 92.4), (15.13, 174.8), (15.11, 127.2), (14.64, 77.3), (14.93, 27.8), (14.6, 11.6), (14.71, 13.5),
    (14.9, 15.5), (15.04, 9.7), (15.13, 9.7), (15.72, 85.1), (15.93, 85.1), (15.69, 66.5), (15.86, 68.4),
    (15.84, 192.2), (15.88, 56.8), (16.01, 48.3), (16.06, 103.6), (15.91, 36.7), (16.15, 30.9), (16.04, 25.1),
    (16.06, 19.3), (16.1, 11.6), (16.44, 286.2), (16.5, 242.8), (16.57, 232.0), (16.38, 183.7), (16.72, 153.5),
    (16.64, 134.2), (16.42, 114.1), (16.66, 111.0), (16.73, 108.3), (16.47, 85.1), (16.54, 75.4), (16.37, 51.0),
    (16.48, 38.7), (16.58, 29.0), (16.78, 44.5), (16.87, 44.5), (16.42, 12.4), (16.75, 34.8), (17.43, 243.6),
    (17.36, 85.1), (17.33, 38.7), (17.69, 166.3), (17.77, 136.1), (17.92, 155.5), (17.71, 111.0), (17.75, 94.7),
    (17.93, 119.9), (17.98, 133.4), (18.05, 134.2), (18.07, 106.3), (17.96, 95.5), (17.83, 77.3), (17.72, 71.5),
    (17.69, 58.0), (18.07, 66.5), (17.9, 52.2), (18.03, 47.2), (18.12, 47.2), (18.07, 40.6), (17.86, 15.5),
    (18.58, 174.0), (18.61, 123.7), (18.74, 123.7), (18.62, 84.3), (18.63, 46.4), (19.05, 199.1), (19.08, 93.6),
    (19.25, 80.0), (19.11, 68.4), (19.17, 56.1), (19.01, 47.2), (19.12, 47.2), (19.35, 58.0), (19.27, 44.5),
    (19.17, 34.8), (19.32, 25.1), (19.41, 17.4), (19.46, 23.2), (19.37, 11.6), (19.51, 7.7), (19.56, 13.5),
    (19.63, 27.1), (19.69, 56.1), (19.7, 96.7), (19.75, 112.1), (19.8, 81.2), (19.89, 100.5), (19.94, 87.0),
    (19.91, 50.3), (19.78, 47.2), (20.0, 44.5), (19.99, 25.1), (20.04, 13.5), (20.13, 131.5), (20.21, 169.0),
    (20.12, 42.5), (20.24, 32.9), (20.19, 25.1), (20.13, 11.6), (21.6, 169.0), (21.6, 92.8), (21.62, 228.2),
    (21.65, 234.0), (21.7, 106.3), (21.91, 157.4), (21.86, 130.3), (21.91, 125.7), (21.93, 116.0), (21.99, 107.1),
    (22.01, 96.7), (21.96, 82.0), (22.03, 70.4), (22.05, 43.3), (22.58, 65.7), (23.44, 315.9), (23.51, 265.7),
    (23.43, 241.7), (23.32, 187.5), (23.4, 183.7), (23.37, 61.9), (23.54, 71.5), (23.4, 39.8), (23.52, 46.4),
    (23.3, 15.5), (23.37, 9.7),
]
nd_d98_x = [(21.55, 20.5), (21.6, 17.0), (21.62, 22.0), (21.68, 19.0), (21.72, 21.0), (21.77, 20.0), (21.58, 14.0)]
nd_zlwp_dots = [
    (1.74, 356.5), (2.78, 268.8), (2.61, 83.9), (0.84, 123.0), (0.33, 59.9), (1.6, 90.1), (1.78, 71.5), (1.78, 23.2),
    (3.76, 44.5), (4.53, 197.2), (5.54, 300.5), (5.66, 165.1), (5.44, 55.3), (5.57, 18.2), (6.06, 49.5), (8.1, 134.6),
    (8.24, 84.3), (8.18, 9.7), (9.25, 68.8), (9.36, 23.2), (9.5, 102.5), (9.67, 233.9), (9.87, 141.9), (10.19, 84.3),
    (10.39, 403.3), (10.59, 28.2), (10.72, 450.9), (10.81, 300.5), (11.14, 132.3), (10.83, 12.4), (12.15, 227.4),
    (12.21, 184.5), (12.35, 60.7), (12.99, 288.1), (13.18, 294.3), (13.22, 52.0), (13.24, 23.0), (13.96, 182.5),
    (14.21, 85.8), (14.32, 44.5), (14.1, 27.0), (14.9, 435.8), (15.04, 151.6), (15.12, 146.9), (14.54, 75.4),
    (15.83, 343.0), (16.6, 482.6), (16.64, 356.5), (16.89, 282.3), (17.01, 217.7), (16.75, 97.4), (16.99, 468.7),
    (17.57, 466.7), (17.54, 304.7), (17.78, 360.4), (17.99, 227.0), (18.12, 209.6), (18.15, 152.7), (17.58, 60.0),
    (18.42, 132.3), (18.48, 247.5), (18.6, 244.8), (18.76, 354.6), (18.92, 251.4), (18.79, 174.8), (18.94, 174.0),
    (19.06, 170.9), (18.97, 141.1), (18.98, 124.5), (19.6, 169.0), (19.88, 365.4), (19.86, 287.3), (19.83, 149.7),
    (20.09, 101.3), (21.58, 336.4), (21.73, 435.0), (21.75, 382.1), (21.86, 348.0), (21.8, 334.5), (21.62, 311.3),
    (21.69, 302.4), (21.65, 267.6), (22.51, 123.7), (22.76, 118.7), (22.82, 109.0), (22.6, 52.2), (22.82, 58.0),
    (22.97, 245.6), (23.17, 220.4), (23.7, 216.6), (23.69, 19.3),
    (0.08, 0), (0.35, 0), (0.64, 0), (1.01, 0), (1.22, 0), (1.43, 0), (1.83, 0), (2.05, 0), (2.35, 0), (2.84, 0),
    (2.93, 0), (3.33, 0), (3.63, 0), (3.75, 0), (4.11, 0), (4.53, 0), (4.87, 0), (5.2, 0), (5.44, 0), (5.65, 0),
    (6.12, 0), (6.24, 0), (6.93, 0), (7.32, 0), (7.97, 0), (8.05, 0), (8.26, 0), (9.19, 0), (9.38, 0), (9.72, 0),
    (9.93, 0), (10.66, 0), (11.53, 0), (11.64, 0), (11.91, 0), (12.29, 0), (12.98, 0), (13.1, 0), (13.18, 0),
    (14.04, 0), (14.18, 0), (14.32, 0), (14.47, 0), (14.71, 0), (15.0, 0), (15.29, 0), (15.4, 0), (22.05, 0),
    (22.12, 0), (22.2, 0), (22.28, 0), (22.36, 0), (22.45, 0), (22.55, 0), (22.64, 0), (22.72, 0), (22.8, 0),
    (22.9, 0), (23.0, 0), (23.08, 0), (23.16, 0), (23.25, 0), (23.72, 0), (23.93, 0),
]
nd_d98_dots = [(0.11, 24.0), (0.64, 6.0), (0.84, 17.0), (1.6, 12.0), (1.65, 2.0), (1.72, 15.0), (1.78, 8.0),
               (2.13, 10.0), (2.53, 23.0), (2.59, 13.0), (2.66, 10.0), (2.75, 17.0), (2.9, 8.0), (3.63, 8.0),
               (3.69, 10.0), (3.84, 12.0), (3.9, 4.0), (4.43, 12.0), (4.65, 13.5), (5.66, 4.0), (6.12, 8.0),
               (6.73, 2.0), (7.08, 2.0), (7.24, 4.0), (21.86, 6.0), (21.9, 3.0), (21.95, 5.0), (22.0, 2.0),
               (22.3, 1.0), (22.6, 2.0), (22.8, 1.0), (23.3, 2.0), (23.4, 1.0), (23.5, 1.0)]
nd_band_blue = [(0.0, 0.04), (0.12, 0.14), (0.29, 0.4), (0.58, 0.62), (0.64, 0.66), (0.74, 0.83), (1.02, 1.03),
                (1.2, 1.3), (1.37, 1.39), (1.45, 1.47), (1.63, 1.68), (1.72, 1.84), (2.12, 2.2), (2.22, 2.32),
                (2.35, 2.45), (2.48, 2.6), (2.62, 2.76), (2.8, 2.93), (3.33, 3.34), (3.59, 3.64), (3.7, 3.76),
                (3.8, 3.84), (3.9, 4.02), (4.38, 4.46), (4.52, 4.54), (4.62, 4.7), (4.74, 4.8), (4.86, 4.88),
                (5.2, 5.22), (5.28, 5.32), (5.42, 5.66), (6.02, 6.08), (6.14, 6.18), (6.22, 6.24), (6.36, 6.46),
                (6.65, 6.84), (6.92, 6.96), (7.02, 7.06), (7.1, 7.3), (7.56, 7.6), (7.64, 7.72), (7.76, 7.84),
                (7.88, 7.9), (8.05, 8.14), (8.24, 8.3), (9.14, 9.2), (9.25, 9.36), (9.4, 9.42), (9.48, 9.52),
                (9.65, 9.7), (9.78, 9.86), (9.9, 10.05), (10.38, 10.4), (10.6, 10.63), (10.7, 10.74),
                (10.82, 10.85), (10.97, 11.0), (11.05, 11.35), (11.45, 11.47), (11.6, 11.66), (12.97, 13.02),
                (13.1, 13.2), (13.3, 13.39), (13.74, 13.8), (13.85, 14.47), (14.62, 14.68), (14.72, 15.08),
                (15.12, 15.2), (15.28, 15.32), (15.38, 15.4), (15.7, 15.72), (15.8, 15.84), (15.9, 16.15),
                (16.36, 16.42), (16.5, 16.52), (16.58, 16.62), (16.66, 16.7), (16.75, 16.8), (16.9, 16.95),
                (17.52, 17.56), (17.62, 17.66), (17.7, 17.9), (17.95, 18.15), (18.45, 18.5), (18.58, 18.62),
                (18.7, 18.84), (19.36, 19.4), (19.48, 19.52), (19.62, 19.66), (19.72, 19.76), (19.86, 19.9),
                (20.0, 20.25), (21.57, 21.9), (21.95, 22.2), (22.2, 22.48), (22.6, 22.72), (22.75, 23.4),
                (23.62, 23.66)]
nd_band_orange = [(5.43, 5.65, 0, 500), (6.65, 6.84, 0, 500), (7.12, 7.29, 0, 500), (22.2, 22.52, 0, 500),
                  (22.62, 23.38, 0, 500), (21.55, 22.2, 0, 22), (0.0, 0.2, 0, 25), (0.3, 0.4, 0, 25),
                  (1.6, 1.85, 0, 30), (2.1, 2.95, 0, 30), (3.6, 3.95, 0, 25), (4.4, 4.85, 0, 30), (6.0, 6.45, 0, 25)]

# ---------------- panel 5: optical depth ----------------
od_zlwp_x = [
    (0.12, 9.7), (0.05, 0.8), (0.37, 0.6), (0.58, 3.1), (0.68, 3.4), (0.74, 4.8), (0.77, 4.0), (0.8, 11.1),
    (0.81, 1.8), (1.26, 36.9), (1.26, 12.1), (1.28, 4.6), (1.29, 3.4), (1.25, 1.4), (1.65, 3.1), (1.71, 1.6),
    (1.78, 5.7), (1.75, 4.4), (2.21, 17.5), (2.27, 13.7), (2.29, 12.5), (2.23, 8.5), (2.13, 6.1), (2.14, 3.2),
    (2.24, 4.8), (2.45, 41.6), (2.63, 19.8), (2.51, 11.3), (2.58, 11.5), (2.55, 4.8), (2.61, 3.6), (2.73, 12.3),
    (2.81, 7.4), (2.8, 4.8), (2.67, 3.1), (3.63, 8.1), (3.65, 5.3), (3.84, 6.1), (3.91, 8.5), (3.72, 1.4),
    (3.94, 2.0), (3.96, 0.6), (4.45, 26.8), (4.43, 3.6), (4.41, 1.6), (4.63, 2.2), (4.73, 1.2), (4.79, 4.4),
    (4.77, 1.4), (5.31, 1.4), (6.42, 15.3), (6.45, 13.2), (6.45, 5.7), (6.42, 4.0), (6.16, 3.8), (6.04, 1.4),
    (6.81, 63.4), (6.95, 55.3), (6.83, 38.4), (6.77, 30.5), (6.79, 26.1), (6.69, 23.4), (6.71, 19.5), (6.67, 8.6),
    (6.73, 2.8), (6.97, 20.2), (7.03, 22.5), (7.08, 27.1), (7.18, 15.9), (7.07, 11.3), (7.26, 10.3), (7.14, 8.1),
    (7.24, 7.1), (7.2, 4.8), (7.14, 4.0), (7.16, 1.2), (7.28, 1.2), (7.42, 2.6), (7.4, 1.6), (7.56, 0.6),
    (7.71, 23.3), (7.79, 27.6), (7.89, 26.3), (7.75, 18.2), (7.67, 16.7), (7.81, 8.5), (7.77, 9.3), (7.64, 6.5),
    (7.66, 3.6), (7.83, 4.0), (7.91, 1.6), (8.3, 24.5), (8.31, 11.7), (8.3, 9.1), (9.13, 10.7), (9.48, 3.1),
    (9.5, 3.4), (10.01, 86.8), (10.03, 30.0), (9.95, 10.7), (10.06, 4.0), (10.06, 1.8),
    (11.19, 26.9), (11.23, 19.8), (11.21, 17.5), (11.48, 19.1), (11.64, 25.6), (11.07, 10.5), (11.08, 8.1),
    (11.07, 5.8), (11.24, 13.5), (11.28, 12.3), (11.33, 10.1), (11.31, 8.5), (11.33, 6.1), (11.47, 8.2),
    (11.23, 8.9), (12.02, 1.0), (12.09, 1.0), (12.17, 1.4), (11.95, 0.6), (13.07, 4.4), (13.11, 8.3),
    (13.31, 21.6), (13.35, 16.0), (13.33, 7.1), (13.38, 10.7), (13.4, 1.2), (13.77, 11.1), (13.81, 4.8),
    (13.85, 2.0), (13.93, 5.5), (14.86, 73.7), (15.12, 28.7), (15.1, 17.5), (14.88, 12.9), (14.64, 9.3),
    (14.76, 10.1), (14.69, 4.0), (14.61, 2.0), (14.92, 1.6), (15.17, 6.5), (15.1, 4.8), (15.84, 20.6),
    (15.9, 19.8), (15.86, 16.2), (15.88, 15.5), (16.1, 16.4), (16.05, 12.9), (16.03, 11.1), (15.98, 9.3),
    (16.12, 8.6), (15.94, 6.5), (16.04, 5.8), (16.15, 4.8), (15.72, 3.6), (15.69, 2.3), (16.0, 2.3),
    (16.15, 2.3), (16.42, 24.5), (16.51, 23.2), (16.73, 20.6), (16.37, 12.9), (16.42, 11.3), (16.51, 14.1),
    (16.6, 14.3), (16.72, 14.1), (16.42, 7.0), (16.47, 8.9), (16.63, 8.5), (16.68, 7.0), (16.54, 4.0),
    (16.87, 4.0), (16.78, 3.1), (16.79, 1.6), (16.39, 1.8), (17.85, 22.8), (17.86, 7.5), (17.91, 4.8),
    (17.69, 4.0), (17.78, 2.8), (17.98, 3.1), (18.05, 2.3), (18.12, 1.6), (17.35, 4.0), (17.38, 2.0),
    (17.46, 4.0), (18.65, 4.8), (18.63, 3.1), (18.79, 7.0), (19.08, 29.5), (19.11, 20.2), (19.03, 16.3),
    (19.06, 12.9), (19.17, 8.6), (19.17, 6.5), (19.27, 36.5), (19.27, 25.2), (19.29, 21.4), (19.35, 14.4),
    (19.35, 11.1), (19.32, 8.1), (19.41, 7.0), (19.46, 4.4), (19.53, 2.4), (19.6, 3.6), (19.65, 6.1),
    (19.69, 14.3), (19.74, 23.0), (19.75, 42.2), (19.77, 30.7), (19.8, 28.7), (19.89, 14.4), (19.92, 66.5),
    (19.94, 54.8), (19.91, 44.7), (19.99, 36.9), (20.01, 25.8), (19.97, 9.1), (20.03, 22.2), (20.13, 7.7),
    (20.18, 6.9), (20.12, 6.1), (20.23, 2.8), (20.16, 2.0), (20.2, 1.2), (21.59, 5.4), (21.62, 3.6),
    (21.57, 2.3), (21.89, 14.1), (21.93, 12.9), (21.99, 11.3), (21.96, 9.3), (22.03, 8.5), (22.58, 22.2),
    (23.32, 33.0), (23.37, 28.3), (23.35, 19.5), (23.4, 13.3), (23.45, 10.9), (23.43, 8.1), (23.49, 14.0),
    (23.52, 3.6), (23.56, 1.8),
]
od_zlwp_dots = [
    (8.24, 60.3), (8.26, 53.6), (8.09, 38.9), (8.08, 34.3), (8.16, 24.0), (8.13, 12.1), (8.24, 17.1), (7.86, 15.8),
    (7.7, 11.1), (7.87, 11.3), (8.04, 7.5), (8.18, 4.0), (8.23, 2.8), (8.06, 1.2), (8.2, 0.6), (9.25, 40.0),
    (9.29, 25.2), (9.27, 20.4), (9.36, 35.1), (9.35, 13.5), (9.23, 12.3), (9.3, 4.0), (9.33, 2.8), (9.87, 51.1),
    (10.02, 51.5), (9.89, 18.7), (9.83, 16.4), (9.91, 14.1), (9.98, 11.9), (9.85, 8.9), (9.93, 4.4), (9.8, 4.0),
    (9.77, 2.0), (9.68, 1.5), (9.65, 5.1), (9.72, 0.4), (10.4, 19.1), (10.37, 14.5), (10.38, 9.2), (10.4, 7.8),
    (10.68, 7.7), (10.68, 4.4), (10.73, 9.9), (10.59, 1.6), (10.66, 0.8), (5.61, 44.6), (5.59, 42.3),
    (5.62, 41.2), (5.65, 21.4), (5.66, 19.4), (5.67, 13.5), (5.44, 9.3), (5.48, 8.9), (5.52, 8.7), (5.46, 4.8),
    (5.53, 5.5), (4.45, 29.9), (2.4, 26.1), (2.41, 23.4), (2.38, 18.2), (2.4, 8.2), (2.35, 6.1), (2.41, 1.4),
    (2.51, 2.3), (0.36, 9.0), (0.63, 9.3), (0.11, 6.5), (0.36, 4.4), (0.35, 2.8), (0.8, 8.2), (6.95, 6.1),
    (6.9, 16.3), (6.87, 15.1), (6.85, 17.8), (6.99, 18.4), (6.84, 13.3), (6.07, 9.0), (7.01, 7.7), (7.07, 7.3),
    (7.19, 1.6), (7.46, 1.0), (7.75, 1.6), (7.85, 3.1), (7.93, 2.3), (1.01, 0.2), (1.43, 0.2), (3.33, 0.2),
    (2.93, 0.2), (6.1, 0.2), (6.27, 0.2),
    (23.18, 96.3), (22.97, 83.4), (22.68, 56.5), (22.66, 43.1), (22.83, 53.9), (22.85, 37.7), (22.97, 35.3),
    (22.89, 28.8), (22.6, 29.9), (23.22, 38.8), (23.25, 31.7), (23.0, 24.0), (22.87, 22.0), (22.44, 20.8),
    (22.49, 19.4), (22.34, 17.5), (22.42, 16.3), (22.49, 11.3), (22.53, 13.5), (23.2, 19.2), (23.19, 15.8),
    (23.7, 12.4), (22.82, 13.7), (23.04, 13.9), (22.95, 11.9), (22.54, 4.0), (22.39, 3.4), (22.2, 1.2),
    (22.1, 0.8), (22.88, 2.4), (23.05, 2.0), (23.14, 0.8), (23.78, 0.8), (23.93, 0.4),
    (14.03, 77.9), (14.0, 60.3), (13.98, 51.9), (13.97, 43.8), (14.07, 47.8), (14.22, 49.1), (14.31, 43.6),
    (14.33, 42.6), (14.04, 27.5), (13.73, 35.7), (14.09, 23.3), (14.16, 22.0), (14.24, 21.2), (14.38, 17.1),
    (14.28, 12.9), (14.19, 12.1), (14.11, 9.0), (14.12, 4.2), (14.21, 7.1), (14.39, 6.2), (13.75, 13.6),
    (13.75, 12.3), (13.17, 59.8), (13.21, 54.9), (13.16, 43.2), (13.23, 27.1), (13.12, 19.4), (13.11, 15.1),
    (13.19, 13.2), (13.25, 12.0), (12.98, 2.4), (13.01, 1.6), (13.16, 7.1), (14.82, 32.9), (14.83, 31.1),
    (15.13, 25.2), (15.12, 18.4), (15.05, 18.7), (15.07, 11.1), (15.02, 10.3), (15.24, 13.5), (14.8, 15.2),
    (14.81, 12.9), (14.52, 6.9), (14.49, 8.1), (14.43, 6.2), (10.99, 55.2), (11.16, 37.7), (11.16, 34.9),
    (11.13, 21.6), (10.99, 24.4), (11.12, 18.6), (11.43, 14.1), (11.5, 17.4), (11.62, 5.5), (11.67, 2.3),
    (11.53, 2.4), (12.32, 35.5), (12.32, 22.9), (12.29, 6.5), (12.33, 8.6), (12.2, 3.2), (12.15, 1.8),
    (9.88, 51.3), (10.03, 51.6), (10.41, 19.2), (10.39, 9.0), (10.37, 8.1), (10.6, 14.7), (10.73, 9.9),
    (10.68, 4.4), (10.81, 4.6), (10.84, 1.8), (10.7, 0.8), (9.87, 16.4), (9.91, 14.4), (10.18, 2.0),
    (15.82, 16.6), (15.87, 4.4), (15.93, 16.6), (16.12, 13.7), (16.15, 7.7), (16.94, 7.0), (16.99, 2.8),
    (16.9, 9.5), (17.54, 11.3), (17.57, 5.7), (17.67, 9.9), (17.83, 18.2), (17.78, 0.4), (18.15, 1.4),
    (18.57, 7.3), (18.55, 5.5), (18.5, 3.1), (18.89, 4.4), (19.06, 41.4), (19.1, 23.2), (19.01, 12.3),
    (19.18, 9.7), (19.85, 4.3), (19.83, 6.3), (20.09, 9.0), (21.67, 8.5), (21.8, 8.1), (21.74, 4.8),
    (21.82, 3.1), (21.6, 2.4), (21.7, 1.2),
]
od_d98_dots = [
    (5.43, 4.2), (5.46, 5.7), (5.49, 6.6), (5.53, 7.0), (5.57, 7.1), (5.61, 7.0), (5.64, 6.6), (5.66, 4.8),
    (5.67, 3.5), (6.68, 4.8), (6.71, 6.3), (6.75, 6.3), (6.79, 6.3), (6.83, 6.6), (6.87, 6.9), (6.91, 6.9),
    (6.95, 6.7), (7.0, 6.5), (7.03, 6.3), (7.07, 6.1), (7.11, 5.7), (7.15, 5.9), (7.18, 4.2),
    (0.12, 4.4), (0.11, 2.4), (0.35, 5.8), (0.37, 2.8), (0.36, 5.5), (0.61, 1.8), (0.64, 3.1), (0.8, 5.8),
    (0.81, 4.7), (1.29, 6.1), (1.3, 4.2), (1.6, 1.2), (1.65, 0.8), (1.78, 4.6), (1.79, 3.1), (2.25, 4.4),
    (2.28, 3.6), (2.37, 7.3), (2.41, 6.6), (2.45, 6.5), (2.51, 0.8), (2.71, 3.2), (2.75, 4.6), (2.88, 4.8),
    (2.9, 5.5), (2.92, 3.4), (3.63, 3.4), (3.65, 3.8), (3.84, 3.0), (3.92, 4.0), (3.94, 1.4), (4.45, 6.1),
    (4.43, 5.0), (4.65, 1.8), (4.79, 2.8), (5.06, 0.0), (6.02, 4.4), (6.1, 4.0), (6.16, 3.6), (6.42, 3.1),
    (6.45, 4.6), (7.24, 4.0), (7.28, 2.8), (5.91, 0.0),
    (21.6, 1.2), (21.67, 1.4), (21.75, 2.0), (21.81, 2.8), (21.86, 4.0), (21.93, 4.4), (22.01, 4.0), (22.08, 3.6),
    (22.15, 4.2), (22.2, 5.4), (22.26, 6.3), (22.34, 6.7), (22.44, 6.9), (22.53, 6.6), (22.63, 7.0), (22.72, 7.3),
    (22.82, 7.0), (22.92, 6.6), (23.02, 6.3), (23.11, 4.2), (23.19, 6.6), (23.26, 6.9), (23.35, 6.3), (23.43, 4.8),
    (23.5, 3.4), (23.64, 2.0), (23.71, 3.6), (23.75, 2.6), (23.78, 0.8), (23.93, 1.2),
]
od_band_blue = [(0.11, 0.12, 0, 18), (0.33, 0.39, 0, 82), (0.64, 0.65, 0, 24), (0.8, 0.81, 0, 19),
                (1.25, 1.3, 0, 38), (1.66, 1.7, 0, 14), (1.76, 1.8, 0, 12), (2.14, 2.2, 0, 60),
                (2.28, 2.41, 0, 100), (2.52, 2.56, 0, 45), (2.62, 2.66, 0, 40), (2.72, 2.76, 0, 35),
                (2.79, 2.81, 0, 78), (2.86, 2.9, 0, 50), (3.6, 3.65, 0, 15), (3.8, 3.85, 0, 14),
                (3.92, 3.96, 0, 15), (4.4, 4.46, 0, 38), (4.62, 4.66, 0, 20), (4.76, 4.8, 0, 22),
                (5.4, 5.67, 0, 100), (6.4, 6.47, 0, 25), (6.65, 6.75, 0, 60), (6.78, 6.86, 0, 75),
                (6.92, 6.98, 0, 45), (7.06, 7.12, 0, 40), (7.56, 7.6, 0, 100), (7.64, 7.73, 0, 40),
                (8.05, 8.13, 0, 100), (8.26, 8.3, 0, 80), (9.23, 9.28, 0, 100), (9.32, 9.36, 0, 100),
                (9.8, 9.88, 0, 100), (9.95, 10.02, 0, 100), (10.7, 10.71, 0, 100), (10.97, 11.05, 0, 60),
                (11.1, 11.3, 0, 94), (11.61, 11.62, 0, 100), (12.0, 12.06, 0, 20), (12.2, 12.26, 0, 18),
                (13.13, 13.2, 0, 100), (13.25, 13.42, 0, 100), (13.94, 14.42, 0, 100), (14.76, 14.82, 0, 100),
                (14.9, 15.08, 0, 100), (15.3, 15.32, 0, 52), (15.8, 15.86, 0, 50), (15.92, 15.96, 0, 57),
                (16.05, 16.1, 0, 45), (16.36, 16.42, 0, 35), (16.5, 16.55, 0, 30), (16.62, 16.66, 0, 25),
                (16.74, 16.78, 0, 30), (16.9, 16.94, 0, 25), (17.52, 17.56, 0, 25), (17.66, 17.72, 0, 28),
                (17.84, 17.9, 0, 30), (18.0, 18.06, 0, 25), (18.55, 18.6, 0, 20), (18.72, 18.78, 0, 22),
                (19.02, 19.1, 0, 45), (19.2, 19.3, 0, 52), (19.4, 19.46, 0, 40), (19.6, 19.7, 0, 50),
                (19.78, 19.84, 0, 60), (19.88, 19.96, 0, 82), (20.04, 20.1, 0, 30), (20.16, 20.22, 0, 25),
                (21.58, 21.66, 0, 15), (21.8, 22.0, 0, 15), (22.2, 22.5, 0, 100), (22.55, 23.4, 0, 100)]
od_band_orange = [(5.43, 5.67, 0, 100), (6.65, 7.28, 0, 100), (22.2, 23.1, 0, 100), (23.2, 23.45, 0, 100),
                  (23.45, 23.8, 0, 12), (21.5, 22.2, 0, 6), (0.0, 0.4, 0, 6), (1.2, 1.3, 0, 7),
                  (1.6, 1.85, 0, 6), (2.1, 2.95, 0, 8), (3.6, 3.95, 0, 5), (4.4, 4.85, 0, 7), (6.0, 6.45, 0, 6)]


# ---------------- helpers ----------------
def pairs_to_frame(pairs):
    rows = [(np.nan, np.nan) if p is None else p for p in pairs]
    return pd.DataFrame(rows, columns=["hour", "value"])


def style_axes(ax, ylim, yticks, ylabel="", label_x=-0.05):
    ax.set_xlim(0, 24)
    ax.set_ylim(*ylim)
    ax.set_xticks([0, 5, 10, 15, 20])
    ax.set_yticks(yticks)
    ax.yaxis.set_major_formatter(FormatStrFormatter("%g"))
    for side in ["left", "right"]:
        ax.spines[side].set_color(AX_BLUE)
        ax.spines[side].set_linewidth(0.6)
        ax.spines[side].set_visible(True)
    ax.spines["top"].set_visible(False)
    ax.spines["bottom"].set_visible(True)
    ax.spines["bottom"].set_color(DARK)
    ax.spines["bottom"].set_linewidth(0.6)
    ax.tick_params(axis="y", which="both", left=True, right=False, direction="in", length=6.5, width=0.6,
                   colors=AX_BLUE, labelsize=9, pad=7)
    ax.tick_params(axis="x", which="both", bottom=True, top=False, direction="in", length=6.5, width=0.6,
                   color=DARK, labelcolor=DARK, labelsize=9, pad=7)
    ax.set_xlabel("UTC hours on 20250828", fontsize=11, color=DARK, labelpad=7)
    ax.set_ylabel(ylabel, fontsize=11, color=AX_BLUE, va="center")
    ax.yaxis.set_label_coords(label_x, 0.5)


def draw_bands(ax, bands, color, ylo=None, yhi=None, alpha=0.2):
    for band in bands:
        if len(band) == 2:
            s, e, lo, hi = band[0], band[1], ylo, yhi
        else:
            s, e, lo, hi = band
        ax.fill_between([s, e], [lo, lo], [hi, hi], color=color, alpha=alpha, lw=0, zorder=1)


def draw_points(ax, pairs, color, marker, zorder):
    df = pd.DataFrame(pairs, columns=["hour", "value"])
    if marker == "x":
        sns.scatterplot(data=df, x="hour", y="value", ax=ax, marker="x", s=46, linewidth=2.4,
                        color=color, edgecolor=color, legend=False, zorder=zorder, clip_on=False)
    else:
        sns.scatterplot(data=df, x="hour", y="value", ax=ax, marker="o", s=4.5, linewidth=0,
                        color=color, edgecolor="none", legend=False, zorder=zorder, clip_on=False)


def draw_runs(ax, runs, level, color, lw=1.7):
    starts = [r[0] for r in runs]
    ends = [r[1] for r in runs]
    ax.hlines([level] * len(runs), starts, ends, colors=color, lw=lw, capstyle="round", zorder=3)
    df = pd.DataFrame({"hour": starts + ends, "value": [level] * (2 * len(runs))})
    sns.scatterplot(data=df, x="hour", y="value", ax=ax, s=lw * lw * 1.3, color=color, edgecolor="none",
                    linewidth=0, legend=False, zorder=3, clip_on=False)


def marker_legend(ax, labels, anchor):
    handles = [Line2D([], [], ls="none", marker="x", ms=6.8, mew=2.4, color=ORANGE),
               Line2D([], [], ls="none", marker="x", ms=6.8, mew=2.4, color=BLUE)]
    leg = ax.legend(handles, labels, loc="upper left", bbox_to_anchor=anchor, frameon=False, fontsize=9.2,
                    handlelength=6.1, handletextpad=0.63, labelspacing=0.55, borderaxespad=0, borderpad=0)
    leg.get_texts()[0].set_color(ORANGE)
    leg.get_texts()[1].set_color("black")


# ---------------- figure ----------------
fig = plt.figure(figsize=(12.75, 20), dpi=300)
bottoms = [0.7987, 0.611, 0.4237, 0.2362, 0.0494]
axes = [fig.add_axes([0.097, b, 0.688, 0.1517]) for b in bottoms]

# panel 1
ax = axes[0]
draw_runs(ax, d98_q3, 3.0, ORANGE, lw=2.0)
draw_runs(ax, d98_q2, 2.0, ORANGE, lw=2.0)
draw_runs(ax, d98_q10, 10.0, ORANGE)
draw_runs(ax, d98_q6, 6.0, ORANGE)
draw_runs(ax, d98_q4, 4.0, ORANGE)
draw_runs(ax, d98_q1, 1.0, ORANGE)
draw_runs(ax, zlwp_q10, 10.2, BLUE)
draw_runs(ax, zlwp_q9, 9.2, BLUE)
draw_runs(ax, zlwp_q8, 8.2, BLUE)
draw_runs(ax, zlwp_q6, 6.2, BLUE)
draw_runs(ax, zlwp_q5, 5.2, BLUE)
draw_runs(ax, zlwp_q4, 4.2, BLUE)
draw_runs(ax, zlwp_q1, 1.2, BLUE)
draw_runs(ax, zlwp_q0, 0.2, BLUE)
style_axes(ax, (-0.5, 11.5), [0, 2, 4, 6, 8, 10])
for text, color, y0 in [("DQ Flag", AX_BLUE, 0.8285), ("D98 &", ORANGE, 0.8648), ("Z-LWP", BLUE, 0.8943)]:
    fig.text(0.0633, y0, text, rotation=90, rotation_mode="anchor", ha="left", va="center",
             fontsize=11, color=color)

# panel 2
ax = axes[1]
ax.vlines(mwr_spike_hours, -0.2, mwr_spike_tops, colors=MAUVE, lw=0.8, zorder=1)
d98 = pairs_to_frame(d98_lwp)
zl = pairs_to_frame(zlwp_lwp)
ax.plot(d98["hour"], d98["value"], color=ORANGE, lw=3.2, zorder=2, solid_joinstyle="round")
ax.plot(zl["hour"], zl["value"], color=BLUE, lw=2.6, dashes=(6.4, 3.9), zorder=3)
draw_points(ax, zlwp_lwp_single, BLUE, "x", 4)
style_axes(ax, (-0.1, 4.42), [0, 0.5, 1, 1.5, 2, 2.5, 3, 3.5, 4],
           "log10 Liquid Water Path, log10(g/m$^2$)", -0.052)
lwp_handles = [Line2D([], [], color=BROWN, lw=2.0),
               Line2D([], [], color=ORANGE, lw=2.2),
               Line2D([], [], color=BLUE, lw=2.0, dashes=(10, 6))]
ax.legend(lwp_handles, ["MWR Phy Iter", "D98 LWP", "Z-LWP LWP"], loc="upper left",
          bbox_to_anchor=(0.0703, 0.92), frameon=False, fontsize=9.2, handlelength=6.1,
          handletextpad=0.63, labelspacing=0.6, borderaxespad=0, borderpad=0)

# panel 3
ax = axes[2]
draw_bands(ax, re_band_orange, ORANGE)
draw_bands(ax, re_band_blue, BLUE, alpha=0.17)
draw_points(ax, re_d98_dots, ORANGE, "o", 3)
draw_points(ax, re_zlwp_dots, BLUE, "o", 4)
draw_points(ax, re_zlwp_x, BLUE, "x", 5)
draw_points(ax, re_d98_x, ORANGE, "x", 5)
style_axes(ax, (-0.12, 25), [0, 5, 10, 15, 20, 25], r"Effective Radius,$\mu$m", -0.049)
marker_legend(ax, ["D98 Re (NaN or Empty)", "Z-LWP"], (0.364, 0.955))

# panel 4
ax = axes[3]
draw_bands(ax, nd_band_orange, ORANGE)
draw_bands(ax, nd_band_blue, BLUE, 0, 500)
draw_points(ax, nd_d98_dots, ORANGE, "o", 3)
draw_points(ax, nd_zlwp_dots, BLUE, "o", 4)
draw_points(ax, nd_zlwp_x, BLUE, "x", 5)
draw_points(ax, nd_d98_x, ORANGE, "x", 5)
style_axes(ax, (0, 500), [0, 100, 200, 300, 400, 500], "Droplet Concentration, #/cc", -0.058)
marker_legend(ax, ["D98 Nd (NaN or Empty)", "Z-LWP Nd"], (0.031, 0.957))

# panel 5
ax = axes[4]
draw_bands(ax, od_band_orange, ORANGE)
draw_bands(ax, od_band_blue, BLUE, alpha=0.17)
draw_points(ax, od_d98_dots, ORANGE, "o", 3)
draw_points(ax, od_zlwp_dots, BLUE, "o", 4)
draw_points(ax, od_zlwp_x, BLUE, "x", 5)
style_axes(ax, (0, 100), [0, 20, 40, 60, 80, 100], "Optical Depth", -0.058)
marker_legend(ax, ["D98 OD (NaN or Empty)", "Z-LWP Nd"], (0.611, 0.955))

fig.savefig("out.png", dpi=300)
